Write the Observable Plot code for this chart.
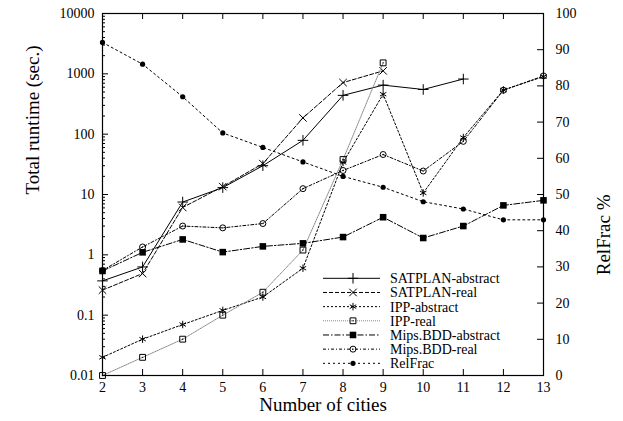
<!DOCTYPE html>
<html><head><meta charset="utf-8">
<script src="https://cdn.jsdelivr.net/npm/d3@7"></script>
<script src="https://cdn.jsdelivr.net/npm/@observablehq/plot@0.6"></script>
<style>
body{margin:0;background:#fff;}
#chart svg{font-family:"Liberation Serif","Times New Roman",serif;background:#fff;}
</style></head><body><div id="chart"></div>
<script>
// ---- data ----
const cities = [2,3,4,5,6,7,8,9,10,11,12,13];
const satplanAbstract = [0.37,0.63,7.5,13,30,79,440,650,550,820,null,null];
const satplanReal     = [0.26,0.49,6.1,13.5,32.5,186,716,1120,null,null,null,null];
const ippAbstract     = [0.02,0.04,0.07,0.12,0.2,0.6,34,460,10.6,88,540,900];
const ippReal         = [0.01,0.02,0.04,0.1,0.24,1.2,38,1520,null,null,null,null];
const mipsAbstract    = [0.54,1.1,1.8,1.11,1.38,1.55,1.97,4.2,1.9,3.0,6.6,8.0];
const mipsReal        = [0.55,1.35,3.0,2.8,3.3,12.5,25,46,24.5,76,535,923];
const relFrac         = [92,86,77,67,63,59,55,52,48,46,43,43]; // right axis, %
const leftTicks  = [0.01,0.1,1,10,100,1000,10000];
const rightTicks = [0,10,20,30,40,50,60,70,80,90,100];
const xLabel = "Number of cities";
const yLabel = "Total runtime (sec.)";
const y2Label = "RelFrac %";

// ---- layout ----
const W = 623, H = 421;
const mL = 102, mR = 80, mT = 13, mB = 46;
const pW = W - mL - mR, pH = H - mT - mB;
const FONT = "Liberation Serif, Times New Roman, serif";

// right axis percent -> position on the log scale
const pctToY = p => Math.pow(10, -2 + p * 6 / 100);

const series = [
  {name:"SATPLAN-abstract", vals:satplanAbstract, dash:null, color:"#000", symbol:"plus", r:3.5, filled:false, dot:false},
  {name:"SATPLAN-real", vals:satplanReal, dash:"4,2", color:"#000", symbol:"times", r:3.5, filled:false, dot:false},
  {name:"IPP-abstract", vals:ippAbstract, dash:"2,2", color:"#000", symbol:"asterisk", r:3.5, filled:false, dot:false},
  {name:"IPP-real", vals:ippReal, dash:"1,1", color:"#888", symbol:"square", r:3.3, filled:false, dot:true},
  {name:"Mips.BDD-abstract", vals:mipsAbstract, dash:"6,2,1.5,2", color:"#000", symbol:"square", r:3.7, filled:true, dot:false},
  {name:"Mips.BDD-real", vals:mipsReal, dash:"3,2,1,2", color:"#000", symbol:"circle", r:3, filled:false, dot:true},
  {name:"RelFrac", vals:relFrac.map(pctToY), dash:"2,3", color:"#000", symbol:"circle", r:2.6, filled:true, dot:false}
];

const minorTicks = [];
for (let e = -2; e < 4; e++) for (let m = 2; m <= 9; m++) minorTicks.push(m * Math.pow(10, e));

const marks = [];
for (const s of series) {
  const rows = cities.map((c, i) => ({x: c, y: s.vals[i]})).filter(d => d.y != null);
  marks.push(Plot.line(rows, {x:"x", y:"y", stroke:s.color, strokeWidth:1, strokeDasharray:s.dash}));
  marks.push(Plot.dot(rows, {x:"x", y:"y", symbol:s.symbol, r:s.r,
    fill: s.filled ? "#000" : "none", stroke: s.filled ? "none" : "#000", strokeWidth:1}));
  if (s.dot) marks.push(Plot.dot(rows, {x:"x", y:"y", r:0.7, fill:"#000", stroke:"none"}));
}

const chart = Plot.plot({
  width: W, height: H,
  marginLeft: mL, marginRight: mR, marginTop: mT, marginBottom: mB,
  style: {fontSize:"14px", fontFamily:FONT, color:"#000", background:"#fff"},
  x: {domain:[2,13], axis:null},
  y: {type:"log", domain:[0.01,10000], axis:null},
  marks: [
    // inward ticks
    Plot.tickX(cities, {x:d=>d, insetTop:pH-6, stroke:"#000"}),
    Plot.tickX(cities, {x:d=>d, insetBottom:pH-6, stroke:"#000"}),
    Plot.tickY(leftTicks, {y:d=>d, insetRight:pW-6, stroke:"#000"}),
    Plot.tickY(minorTicks, {y:d=>d, insetRight:pW-3, stroke:"#000"}),
    Plot.tickY(rightTicks.map(pctToY), {y:d=>d, insetLeft:pW-6, stroke:"#000"}),
    // tick labels
    Plot.text(cities, {x:d=>d, text:d=>String(d), frameAnchor:"bottom", dy:16, fontSize:14}),
    Plot.text(leftTicks, {y:d=>d, text:d=>String(d), frameAnchor:"left", dx:-8, textAnchor:"end", fontSize:14}),
    Plot.text(rightTicks, {y:pctToY, text:d=>String(d), frameAnchor:"right", dx:12, textAnchor:"start", fontSize:14}),
    // titles
    Plot.text([xLabel], {text:d=>d, frameAnchor:"bottom", dy:35, fontSize:19}),
    Plot.text([yLabel], {text:d=>d, frameAnchor:"left", dx:-70, rotate:-90, fontSize:19}),
    Plot.text([y2Label], {text:d=>d, frameAnchor:"right", dx:60, rotate:-90, fontSize:19}),
    ...marks,
    Plot.frame({stroke:"#000", strokeWidth:1.2})
  ]
});

// legend (inside plot, lower right)
const svg = d3.select(chart);
const lg = svg.append("g").attr("font-size", 14).attr("font-family", FONT).attr("text-anchor", "start");
const symMap = {plus:d3.symbolPlus, times:d3.symbolTimes, asterisk:d3.symbolAsterisk, square:d3.symbolSquare, circle:d3.symbolCircle};
const lx1 = mL + pW - 220, lx2 = mL + pW - 163, lmx = mL + pW - 190, ltx = mL + pW - 153;
const ly0 = mT + pH - 96.7, lstep = 14.17;
series.forEach((s, i) => {
  const y = ly0 + i * lstep;
  lg.append("line").attr("x1", lx1).attr("x2", lx2).attr("y1", y).attr("y2", y)
    .attr("stroke", s.color).attr("stroke-width", 1).attr("stroke-dasharray", s.dash);
  lg.append("path").attr("transform", `translate(${lmx},${y})`)
    .attr("d", d3.symbol(symMap[s.symbol], Math.PI * s.r * s.r)())
    .attr("fill", s.filled ? "#000" : "none").attr("stroke", s.filled ? "none" : "#000");
  if (s.dot) lg.append("circle").attr("cx", lmx).attr("cy", y).attr("r", 0.7).attr("fill", "#000");
  lg.append("text").attr("x", ltx).attr("y", y).attr("dy", "0.35em")
    .attr("font-family", FONT).attr("text-anchor", "start").text(s.name);
});

document.getElementById("chart").appendChild(chart);
</script></body></html>
